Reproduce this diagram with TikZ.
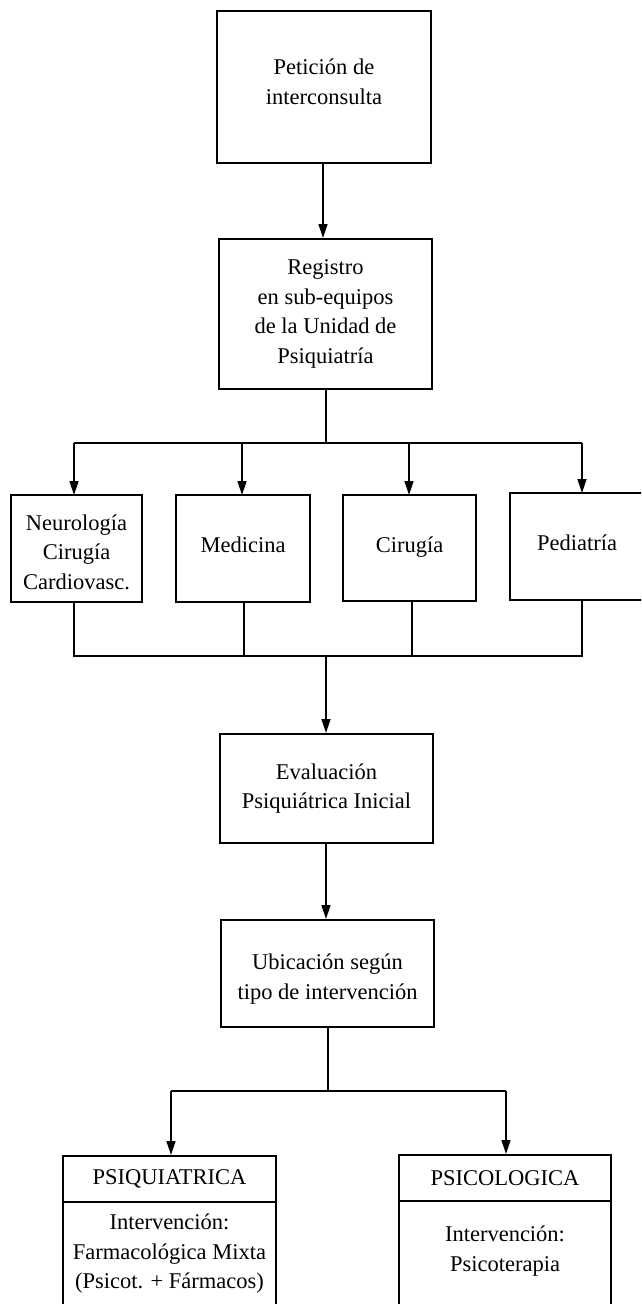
\documentclass[tikz,border=0pt]{standalone}
\usepackage{fontspec}
\setmainfont{Liberation Serif}
\usetikzlibrary{arrows.meta}

\tikzset{
  box/.style={draw, line width=2pt, rectangle, inner sep=0pt, align=center,
              font=\fontsize{22.5}{29.5}\selectfont},
  wire/.style={line width=1.8pt},
  arr/.style={line width=1.4pt, -{Triangle[length=14pt,width=9pt]}},
  label/.style={inner sep=0pt, align=center, font=\fontsize{22.5}{29.5}\selectfont}
}

\begin{document}
\begin{tikzpicture}[x=1pt, y=-1pt]
  \useasboundingbox (0,0) rectangle (641,1304);
  \clip (0,0) rectangle (641,1304);

  % main column
  \node[box, minimum width=214pt, minimum height=152pt] (pet) at (324,87) {};
  \node[label] at (324,82) {Petición de\\interconsulta};

  \node[box, minimum width=213pt, minimum height=150pt] (reg) at (325.5,314)
    {Registro\\en sub-equipos\\de la Unidad de\\Psiquiatría};

  % sub-teams
  \node[box, minimum width=131pt, minimum height=107pt] (neu) at (76.5,548.5) {};
  \node[label] at (76.5,552) {Neurología\\Cirugía\\Cardiovasc.};
  \node[box, minimum width=134pt, minimum height=107pt] (med) at (243,548.5) {};
  \node[label] at (243,545) {Medicina};
  \node[box, minimum width=133pt, minimum height=106pt] (cir) at (409.5,548) {};
  \node[label] at (409.5,547) {Cirugía};
  \node[box, minimum width=134pt, minimum height=107pt] (ped) at (577,546.5) {};
  \node[label] at (577,543) {Pediatría};

  \node[box, minimum width=213pt, minimum height=109pt] (eva) at (326.5,788.5)
    {Evaluación\\Psiquiátrica Inicial};

  \node[box, minimum width=213pt, minimum height=107pt] (ubi) at (327.5,973.5) {};
  \node[label] at (327.5,979) {Ubicación según\\tipo de intervención};

  % intervention types
  \node[box, minimum width=213pt, minimum height=46pt] (psqh) at (169.5,1179) {PSIQUIATRICA};
  \node[box, minimum width=213pt, minimum height=104pt] (psqb) at (169.5,1254) {};
  \node[label] at (169.5,1254) {Intervención:\\Farmacológica Mixta\\(Psicot. + Fármacos)};

  \node[box, minimum width=212pt, minimum height=46pt] (pslh) at (505,1178) {PSICOLOGICA};
  \node[box, minimum width=212pt, minimum height=105pt] (pslb) at (505,1253.5) {};
  \node[label] at (505,1251) {Intervención:\\Psicoterapia};

  % bus coordinates
  \coordinate (busA) at (326,443);
  \coordinate (busB) at (326,656);
  \coordinate (busC) at (328,1091);

  % connectors
  \draw[arr] (pet.south -| 323,0) -- (reg.north -| 323,0);

  \draw[wire] (reg.south -| busA) -- (busA);
  \draw[wire] (74,443) -- (582,443);
  \draw[arr] (74,443) -- (74,495);
  \draw[arr] (242,443) -- (242,495);
  \draw[arr] (409,443) -- (409,495);
  \draw[arr] (582,443) -- (582,493);

  \draw[wire] (74,602) -- (74,656) -- (582,656) -- (582,600);
  \draw[wire] (244,602) -- (244,656);
  \draw[wire] (412,601) -- (412,656);
  \draw[arr] (busB) -- (busB |- eva.north);

  \draw[arr] (eva.south -| 326,0) -- (ubi.north -| 326,0);

  \draw[wire] (ubi.south -| busC) -- (busC);
  \draw[wire] (171,1091) -- (506,1091);
  \draw[arr] (171,1091) -- (psqh.north -| 171,0);
  \draw[arr] (506,1091) -- (pslh.north -| 506,0);
\end{tikzpicture}
\end{document}
